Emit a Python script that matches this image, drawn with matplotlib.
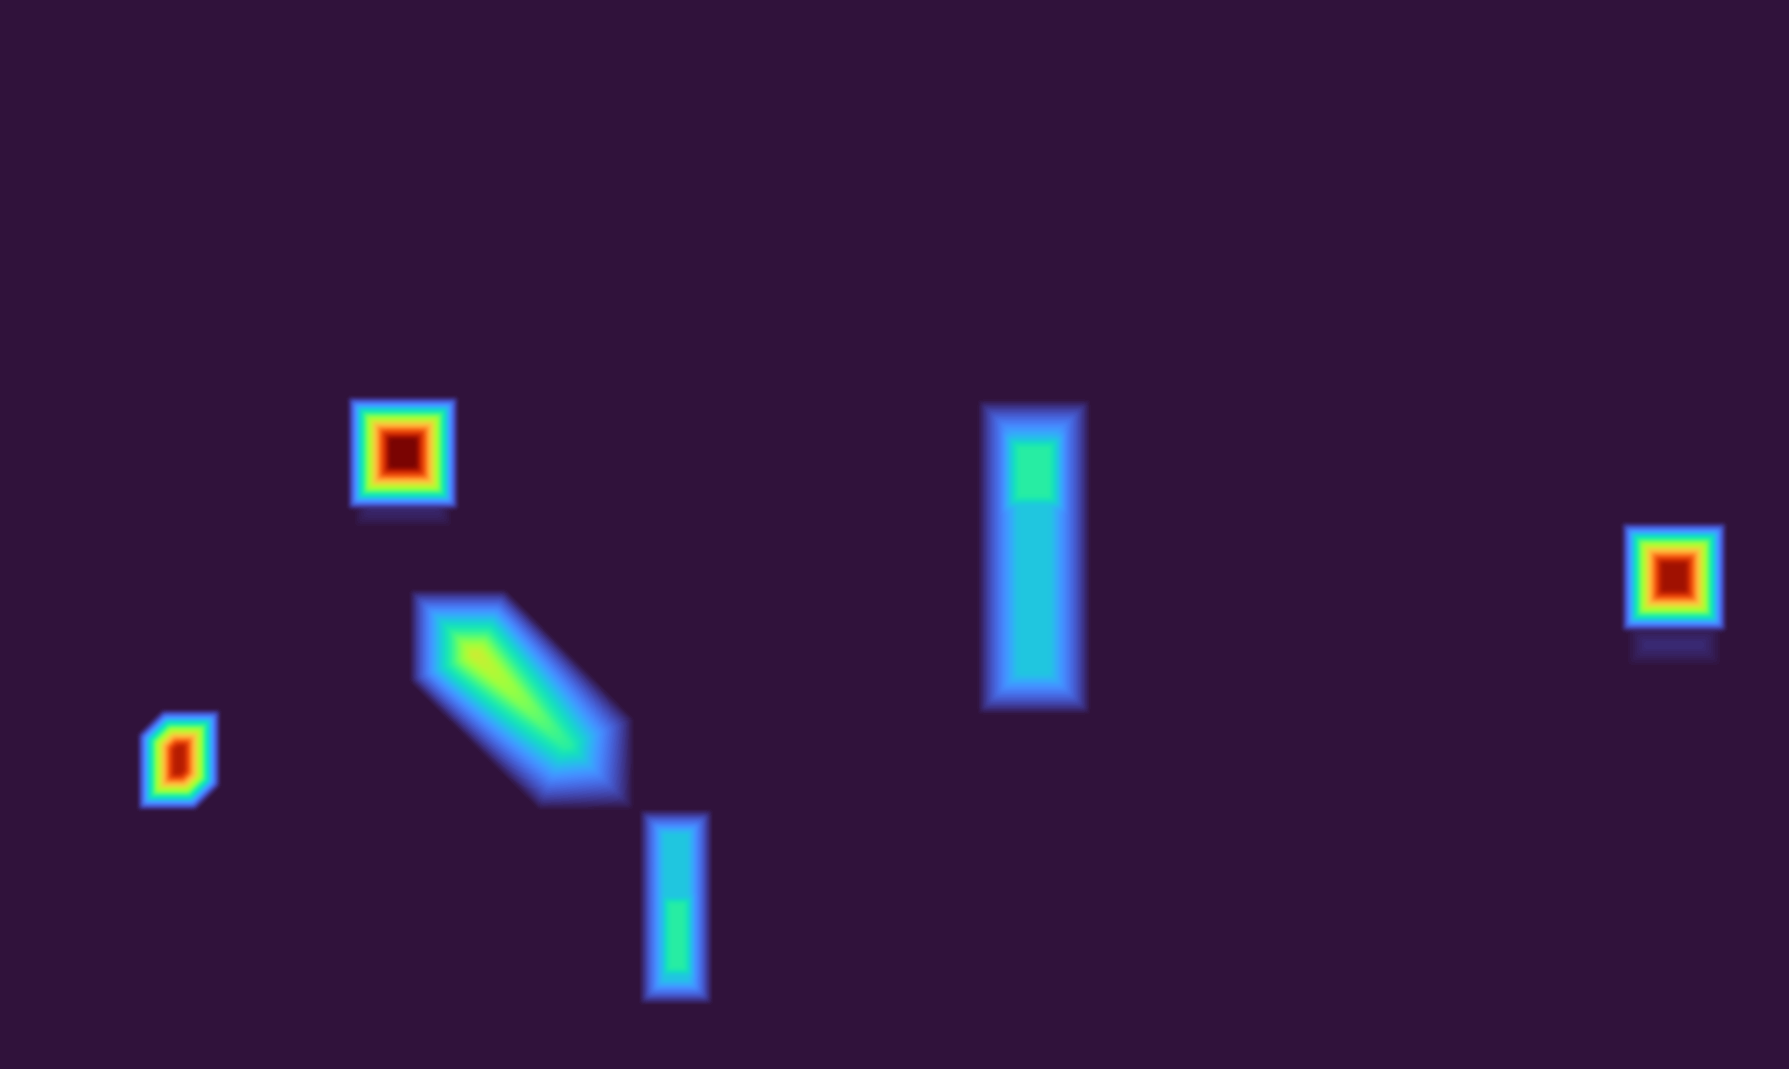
#!/usr/bin/env python3
from __future__ import annotations
import numpy as np
import matplotlib
matplotlib.use("Agg")
import matplotlib.pyplot as plt

WIDTH, HEIGHT = 1789, 1069

# Blob layout (pixel units of the 1789x1069 frame).
# Each blob: centre, outer half-width / half-height, optional diagonal
# half-widths (u: along x+y, v: along x-y), edge ramp length and peak value.
blob_name = ["sq_left", "sq_right", "diamond", "diagonal",
             "tall_top", "tall_body", "low_body", "low_peak", "sq_left_tail", "sq_right_tail"]
blob_cx = [403, 1674, 179, 522, 1034, 1034, 676, 677, 403, 1674]
blob_cy = [453, 577, 760, 700, 472, 557, 907, 936, 512, 645]
blob_hw = [55, 52, 41, 112, 46, 56, 36, 30, 50, 48]
blob_hh = [56, 54, 50, 110, 55, 157, 97, 55, 16, 22]
blob_u = [None, None, 47, None, None, None, None, None, None, None]
blob_v = [None, None, None, 66, None, None, None, None, None, None]
blob_ramp = [42, 40, 36, 62, 30, 40, 24, 22, 16, 20]
blob_peak = [1.0, 0.95, 0.92, 0.56, 0.36, 0.27, 0.27, 0.36, 0.03, 0.035]
# brightness fall-off along x+y for the diagonal streak (start, drop per 100 px)
blob_gpos = [None, None, None, 1130, None, None, None, None, None, None]
blob_gfall = [None, None, None, 0.19, None, None, None, None, None, None]

BLUR = 5


def edge(d: np.ndarray, outer: float, ramp: float) -> np.ndarray:
    return np.clip((outer - d) / ramp, 0.0, 1.0)


def box_blur(a: np.ndarray, k: int, axis: int) -> np.ndarray:
    pad = [(0, 0), (0, 0)]
    pad[axis] = (k // 2 + 1, k // 2)
    c = np.cumsum(np.pad(a, pad, mode="edge"), axis=axis)
    n = a.shape[axis]
    hi = np.take(c, np.arange(k, k + n), axis=axis)
    lo = np.take(c, np.arange(0, n), axis=axis)
    return (hi - lo) / k


def build_field() -> np.ndarray:
    x = np.arange(WIDTH) + 0.5
    y = np.arange(HEIGHT) + 0.5
    X, Y = np.meshgrid(x, y)
    Z = np.zeros_like(X)
    for i in range(len(blob_name)):
        cx, cy, r = blob_cx[i], blob_cy[i], blob_ramp[i]
        p = np.minimum(edge(np.abs(X - cx), blob_hw[i], r),
                       edge(np.abs(Y - cy), blob_hh[i], r))
        if blob_u[i] is not None:
            du = np.abs((X + Y) - (cx + cy)) / np.sqrt(2)
            p = np.minimum(p, edge(du, blob_u[i], r))
        if blob_v[i] is not None:
            dv = np.abs((X - Y) - (cx - cy)) / np.sqrt(2)
            p = np.minimum(p, edge(dv, blob_v[i], r))
        val = blob_peak[i] * p
        if blob_gpos[i] is not None:
            f = 1 - blob_gfall[i] * ((X + Y) - blob_gpos[i]) / 100
            val = val * np.clip(f, 0.0, 1.0)
        Z = np.maximum(Z, val)
    for _ in range(2):
        Z = box_blur(Z, BLUR, 0)
        Z = box_blur(Z, BLUR, 1)
    return Z


def main():
    Z = build_field()
    fig = plt.figure(figsize=(WIDTH / 100, HEIGHT / 100), dpi=100)
    ax = fig.add_axes([0, 0, 1, 1])
    ax.imshow(Z, cmap="turbo", vmin=0, vmax=1, interpolation="nearest",
              extent=[0, WIDTH, HEIGHT, 0], aspect="auto")
    ax.axis("off")
    fig.savefig("out.png", dpi=100)
    plt.close(fig)


if __name__ == "__main__":
    main()
